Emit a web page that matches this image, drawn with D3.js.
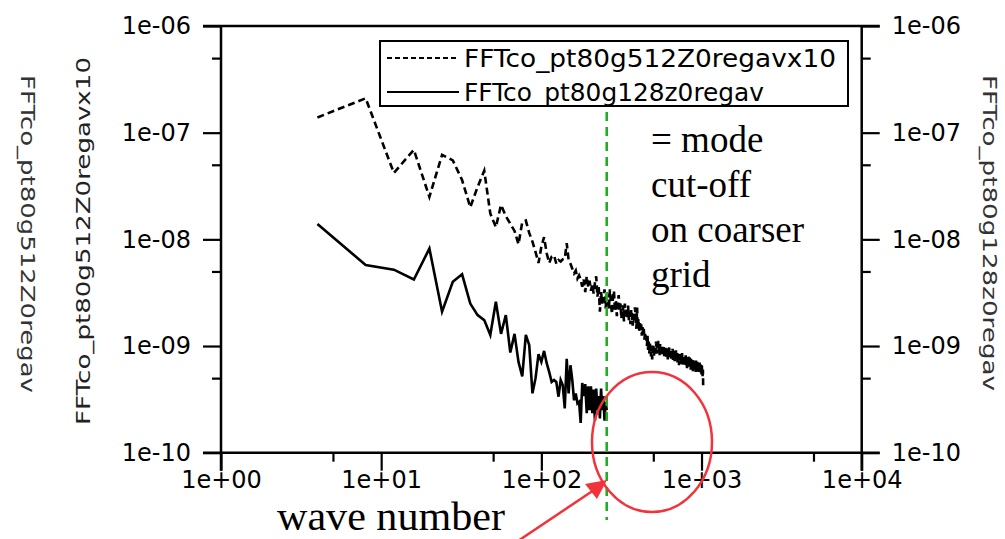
<!DOCTYPE html>
<html>
<head>
<meta charset="utf-8">
<script src="https://cdn.jsdelivr.net/npm/d3@7"></script>
<style>
  html, body { margin: 0; padding: 0; background: #fff; }
  svg { display: block; }
</style>
</head>
<body>
<svg id="chart" width="1005" height="539"></svg>
<script>
// Wave-number grid: both spectra are sampled every 4 units starting at 4
const waveStep = 4;

// Fine grid (512 cells, ×10), wave numbers 4 … 1024
const fineSpectrum = [
  1.39e-7, 2.10e-7, 4.2e-8, 6.9e-8, 2.5e-8, 6.2e-8, 5.5e-8, 3.6e-8,
  2.0e-8, 3.1e-8, 4.4e-8, 1.75e-8, 1.3e-8, 2.1e-8, 1.65e-8, 1.4e-8,
  1.2e-8, 9.0e-9, 1.45e-8, 1.5e-8, 1.15e-8, 9.5e-9, 7.6e-9, 6.0e-9,
  8.5e-9, 1.05e-8, 7.4e-9, 6.0e-9, 6.9e-9, 7.1e-9, 5.9e-9, 6.4e-9,
  6.2e-9, 6.5e-9, 6.6e-9, 9.2e-9, 6.4e-9, 5.9e-9, 5.3e-9, 4.8e-9,
  5.1e-9, 4.3e-9, 4.6e-9, 4.2e-9, 3.6e-9, 4.2e-9, 3.2e-9, 4.5e-9,
  3.6e-9, 4.1e-9, 3.3e-9, 3.8e-9, 3.1e-9, 3.9e-9, 4.5e-9, 2.9e-9,
  3.6e-9, 2.1e-9, 3.2e-9, 2.5e-9, 2.8e-9, 3.4e-9, 2.25e-9, 3.0e-9,
  3.0e-9, 2.2e-9, 3.4e-9, 2.5e-9, 2.0e-9, 2.9e-9, 3.3e-9, 2.1e-9,
  2.7e-9, 1.9e-9, 2.6e-9, 3.0e-9, 2.1e-9, 2.5e-9, 1.8e-9, 2.4e-9,
  2.3e-9, 1.7e-9, 2.5e-9, 1.9e-9, 2.2e-9, 1.8e-9, 2.4e-9, 1.75e-9,
  2.1e-9, 1.6e-9, 2.2e-9, 1.9e-9, 1.55e-9, 2.0e-9, 1.7e-9, 2.3e-9,
  1.9e-9, 1.45e-9, 2.3e-9, 1.5e-9, 1.8e-9, 1.35e-9, 1.7e-9, 1.4e-9,
  1.6e-9, 1.25e-9, 1.5e-9, 1.3e-9, 1.45e-9, 1.15e-9, 1.35e-9, 1.2e-9,
  1.2e-9, 1.0e-9, 1.25e-9, 9.2e-10, 1.1e-9, 8.5e-10, 1.05e-9, 9.5e-10,
  8.0e-10, 1.0e-9, 7.5e-10, 9.5e-10, 1.05e-9, 8.0e-10, 9.0e-10, 1.0e-9,
  9.0e-10, 1.1e-9, 8.5e-10, 1.02e-9, 9.5e-10, 1.12e-9, 8.6e-10, 1.0e-9,
  8.2e-10, 1.05e-9, 9.2e-10, 8.0e-10, 1.02e-9, 8.8e-10, 9.7e-10, 8.4e-10,
  9.8e-10, 8.0e-10, 9.4e-10, 8.5e-10, 1.0e-9, 7.7e-10, 9.2e-10, 8.4e-10,
  9.5e-10, 7.5e-10, 9.0e-10, 8.2e-10, 9.7e-10, 7.8e-10, 9.0e-10, 8.3e-10,
  9.2e-10, 7.6e-10, 8.7e-10, 8.0e-10, 9.4e-10, 7.4e-10, 8.4e-10, 7.8e-10,
  9.0e-10, 7.2e-10, 8.6e-10, 7.9e-10, 9.1e-10, 7.5e-10, 8.2e-10, 8.7e-10,
  7.0e-10, 8.5e-10, 7.3e-10, 8.0e-10, 6.6e-10, 8.2e-10, 7.5e-10, 7.0e-10,
  8.4e-10, 6.8e-10, 7.8e-10, 7.2e-10, 8.6e-10, 6.7e-10, 7.6e-10, 8.0e-10,
  7.0e-10, 7.8e-10, 6.4e-10, 8.0e-10, 7.2e-10, 6.8e-10, 8.2e-10, 6.6e-10,
  7.5e-10, 7.0e-10, 6.2e-10, 7.8e-10, 7.3e-10, 6.6e-10, 8.0e-10, 6.8e-10,
  7.4e-10, 6.4e-10, 7.8e-10, 6.7e-10, 7.1e-10, 6.0e-10, 7.6e-10, 6.8e-10,
  6.2e-10, 7.5e-10, 6.6e-10, 7.2e-10, 5.8e-10, 7.4e-10, 6.5e-10, 7.0e-10,
  6.2e-10, 7.2e-10, 6.0e-10, 7.0e-10, 6.4e-10, 5.6e-10, 7.3e-10, 6.3e-10,
  6.8e-10, 5.8e-10, 7.1e-10, 6.2e-10, 6.6e-10, 5.7e-10, 7.0e-10, 6.1e-10,
  6.6e-10, 5.7e-10, 7.0e-10, 6.0e-10, 6.4e-10, 5.5e-10, 6.8e-10, 5.8e-10,
  6.3e-10, 5.4e-10, 6.6e-10, 5.9e-10, 6.2e-10, 5.2e-10, 6.0e-10, 4.2e-10
];

// Coarse grid (128 cells), wave numbers 4 … 256
const coarseSpectrum = [
  1.39e-8, 5.75e-9, 5.2e-9, 4.2e-9, 8.2e-9, 2.1e-9, 4.0e-9, 4.7e-9,
  2.5e-9, 1.95e-9, 1.75e-9, 1.27e-9, 2.6e-9, 1.3e-9, 1.95e-9, 8.7e-10,
  1.3e-9, 7.1e-10, 5.2e-10, 1.27e-9, 1.02e-9, 3.6e-10, 5.0e-10, 8.4e-10,
  7.1e-10, 9.0e-10, 6.9e-10, 5.7e-10, 4.6e-10, 4.8e-10, 4.6e-10, 3.35e-10,
  4.8e-10, 4.3e-10, 2.6e-10, 7.6e-10, 3.6e-10, 6.6e-10, 4.8e-10, 3.1e-10,
  3.6e-10, 2.9e-10, 3.0e-10, 1.9e-10, 4.5e-10, 3.4e-10, 4.4e-10, 2.35e-10,
  4.2e-10, 2.5e-10, 4.2e-10, 2.35e-10, 3.9e-10, 2.0e-10, 4.0e-10, 2.5e-10,
  3.4e-10, 2.1e-10, 4.0e-10, 2.5e-10, 3.4e-10, 2.0e-10, 3.0e-10, 2.5e-10
];

const seriesNames = ["FFTco_pt80g512Z0regavx10", "FFTco_pt80g128z0regav"];
const xTickValues = [1, 10, 100, 1000, 10000];
const xMinorValues = [5, 50, 500, 5000];
const yTickValues = [1e-10, 1e-9, 1e-8, 1e-7, 1e-6];
const yMinorValues = [5e-10, 5e-9, 5e-8, 5e-7];
const cutoffWave = 256;
const noteLines = ["= mode", "cut-off", "on coarser", "grid"];
const xTitle = "wave number";

const svg = d3.select("#chart");
const plotLeft = 221, plotRight = 861.7, plotTop = 26, plotBottom = 452.7;
const tickLen = 18, minorLen = 9;

const x = d3.scaleLog().domain([1, 1e4]).range([plotLeft, plotRight]);
const y = d3.scaleLog().domain([1e-10, 1e-6]).range([plotBottom, plotTop]);

const expLabel = v => {
  const e = Math.round(Math.log10(v));
  return "1e" + (e < 0 ? "-" : "+") + String(Math.abs(e)).padStart(2, "0");
};

const tickFont = "DejaVu Sans, Verdana, sans-serif";

function styleAxis(g) {
  g.select(".domain").remove();
  g.selectAll(".tick line").attr("stroke", "#000").attr("stroke-width", 2.2);
  g.selectAll(".tick text").attr("fill", "#000")
    .attr("font-family", tickFont).attr("font-size", 24);
}

// frame lines: both value axes run past the wave axis, which runs past both value axes
const frame = svg.append("g").attr("stroke", "#000").attr("stroke-width", 2.5).attr("fill", "none");
frame.append("line").attr("x1", plotLeft).attr("x2", plotLeft).attr("y1", plotTop).attr("y2", plotBottom + tickLen);
frame.append("line").attr("x1", plotRight).attr("x2", plotRight).attr("y1", plotTop).attr("y2", plotBottom + tickLen);
frame.append("line").attr("x1", plotLeft - tickLen).attr("x2", plotRight + tickLen).attr("y1", plotBottom).attr("y2", plotBottom);
frame.append("line").attr("x1", plotLeft - tickLen).attr("x2", plotRight + tickLen).attr("y1", plotTop).attr("y2", plotTop);

// wave-number axis
svg.append("g").attr("transform", `translate(0,${plotBottom})`)
  .call(d3.axisBottom(x).tickValues(xTickValues).tickSize(tickLen).tickPadding(4).tickFormat(expLabel))
  .call(styleAxis)
  .call(g => g.selectAll(".tick text").attr("dy", "0.55em"));
svg.append("g").attr("transform", `translate(0,${plotBottom})`)
  .call(d3.axisBottom(x).tickValues(xMinorValues).tickSize(minorLen).tickFormat(""))
  .call(styleAxis);

// left and right value axes
svg.append("g").attr("transform", `translate(${plotLeft},0)`)
  .call(d3.axisLeft(y).tickValues(yTickValues).tickSize(tickLen).tickPadding(12).tickFormat(expLabel))
  .call(styleAxis);
svg.append("g").attr("transform", `translate(${plotLeft},0)`)
  .call(d3.axisLeft(y).tickValues(yMinorValues).tickSize(minorLen).tickFormat(""))
  .call(styleAxis);
svg.append("g").attr("transform", `translate(${plotRight},0)`)
  .call(d3.axisRight(y).tickValues(yTickValues).tickSize(tickLen).tickPadding(12).tickFormat(expLabel))
  .call(styleAxis);
svg.append("g").attr("transform", `translate(${plotRight},0)`)
  .call(d3.axisRight(y).tickValues(yMinorValues).tickSize(minorLen).tickFormat(""))
  .call(styleAxis);

// rotated axis titles
const sideFont = "DejaVu Sans, sans-serif";
svg.append("text").attr("transform", "translate(28,234) rotate(90)")
  .attr("text-anchor", "middle").attr("dominant-baseline", "central")
  .attr("font-family", sideFont).attr("font-size", 20).attr("fill", "#333")
  .attr("textLength", 318).attr("lengthAdjust", "spacingAndGlyphs")
  .text("FFTco_pt80g512Z0regav");
svg.append("text").attr("transform", "translate(83,241) rotate(-90)")
  .attr("text-anchor", "middle").attr("dominant-baseline", "central")
  .attr("font-family", sideFont).attr("font-size", 20).attr("fill", "#222")
  .attr("textLength", 368).attr("lengthAdjust", "spacingAndGlyphs")
  .text(seriesNames[0]);
svg.append("text").attr("transform", "translate(990,233) rotate(90)")
  .attr("text-anchor", "middle").attr("dominant-baseline", "central")
  .attr("font-family", sideFont).attr("font-size", 20).attr("fill", "#333")
  .attr("textLength", 316).attr("lengthAdjust", "spacingAndGlyphs")
  .text(seriesNames[1]);

// spectra
const toPoints = arr => arr.map((v, i) => ({ k: waveStep * (i + 1), v }));
const line = d3.line().x(d => x(d.k)).y(d => y(d.v));

svg.append("path").datum(toPoints(fineSpectrum))
  .attr("d", line).attr("fill", "none").attr("stroke", "#000")
  .attr("stroke-width", 2.6).attr("stroke-dasharray", "7,4");
svg.append("path").datum(toPoints(coarseSpectrum))
  .attr("d", line).attr("fill", "none").attr("stroke", "#000")
  .attr("stroke-width", 2.6).attr("stroke-linejoin", "miter");

// cut-off marker
svg.append("line")
  .attr("x1", x(cutoffWave)).attr("x2", x(cutoffWave))
  .attr("y1", 112).attr("y2", 520)
  .attr("stroke", "#1fae1f").attr("stroke-width", 2.6).attr("stroke-dasharray", "9,6");

// legend
const legend = svg.append("g");
legend.append("rect").attr("x", 380).attr("y", 41).attr("width", 468).attr("height", 65)
  .attr("fill", "#fff").attr("stroke", "#000").attr("stroke-width", 2);
const rows = [{ y: 58, dash: "5,3", len: 372 }, { y: 92, dash: null, len: 300 }];
rows.forEach((r, i) => {
  legend.append("line").attr("x1", 387).attr("x2", 459).attr("y1", r.y).attr("y2", r.y)
    .attr("stroke", "#000").attr("stroke-width", 1.8).attr("stroke-dasharray", r.dash);
  legend.append("text").attr("x", 464).attr("y", r.y).attr("dominant-baseline", "central")
    .attr("font-family", tickFont).attr("font-size", 25).attr("fill", "#000")
    .attr("textLength", r.len).attr("lengthAdjust", "spacingAndGlyphs")
    .text(seriesNames[i]);
});

// note beside the cut-off
const serif = "Liberation Serif, Times New Roman, serif";
svg.append("g").selectAll("text").data(noteLines).join("text")
  .attr("x", 651).attr("y", (d, i) => 152 + i * 45)
  .attr("font-family", serif).attr("font-size", 37).attr("fill", "#000")
  .text(d => d);

// wave-number title
svg.append("text").attr("x", 277).attr("y", 529.5)
  .attr("font-family", serif).attr("font-size", 40).attr("fill", "#000")
  .attr("textLength", 228).attr("lengthAdjust", "spacingAndGlyphs")
  .text(xTitle);

// red highlight ring and arrow
const red = "#f2333c";
svg.append("ellipse").attr("cx", 652).attr("cy", 442).attr("rx", 60).attr("ry", 70)
  .attr("fill", "none").attr("stroke", red).attr("stroke-width", 2.5);
svg.append("line").attr("x1", 512).attr("y1", 545).attr("x2", 594).attr("y2", 490)
  .attr("stroke", red).attr("stroke-width", 2.5);
svg.append("polygon").attr("points", "607,480 585,484 597,499").attr("fill", red);
</script>
</body>
</html>
